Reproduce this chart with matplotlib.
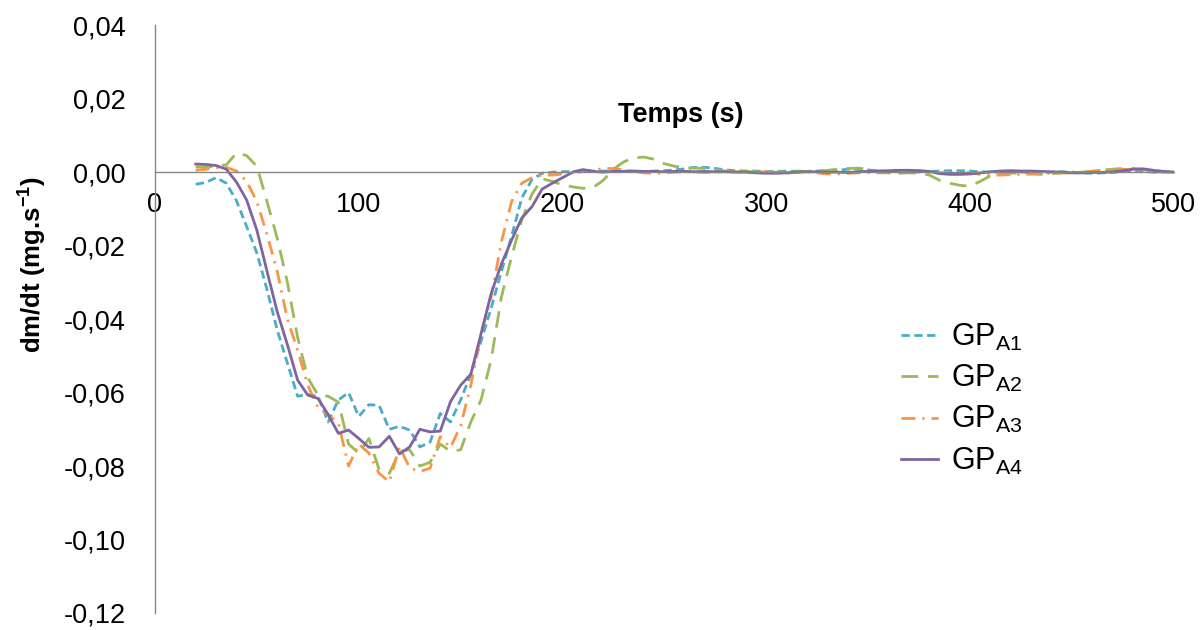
import numpy as np
import matplotlib
matplotlib.use("Agg")
import matplotlib.pyplot as plt
from matplotlib.ticker import FixedLocator, FuncFormatter

plt.rcParams['font.family'] = ['Liberation Sans', 'DejaVu Sans']
plt.rcParams['mathtext.fontset'] = 'custom'
plt.rcParams['mathtext.rm'] = 'Liberation Sans'
plt.rcParams['mathtext.bf'] = 'Liberation Sans:bold'

# time (s), one sample every 5 s from 20 to 500
temps = np.arange(20, 505, 5)

gp_a1 = [-0.0033, -0.0028, -0.0015, -0.0030, -0.0078, -0.0148, -0.0220, -0.0320, -0.0430, -0.0520,
         -0.0610, -0.0605, -0.0610, -0.0680, -0.0620, -0.0600, -0.0665, -0.0633, -0.0635, -0.0700,
         -0.0692, -0.0702, -0.0748, -0.0735, -0.0657, -0.0680, -0.0620, -0.0550, -0.0460, -0.0370,
         -0.0270, -0.0175, -0.0070, -0.0020, -0.0003, 0.0000, 0.0001, 0.0002, 0.0003, 0.0003,
         0.0003,
         0.0003, 0.0003, 0.0002, 0.0002, 0.0003, 0.0004, 0.0006, 0.0009, 0.0013, 0.0013,
         0.0010, 0.0006, 0.0004, 0.0003, 0.0003, 0.0002, 0.0002, 0.0003, 0.0002, 0.0002,
         0.0003, 0.0004, 0.0005, 0.0008, 0.0008, 0.0006, 0.0003, 0.0002, 0.0002, 0.0003,
         0.0003, 0.0002, 0.0003, 0.0004, 0.0004, 0.0003, 0.0001, 0.0000, 0.0000, 0.0001,
         0.0000, -0.0001, -0.0001, 0.0000, 0.0001, 0.0000, -0.0002, -0.0003, -0.0002, -0.0001,
         0.0001, 0.0003, 0.0002, 0.0000, 0.0000, 0.0000]

gp_a2 = [0.0014, 0.0014, 0.0015, 0.0020, 0.0052, 0.0045, 0.0016, -0.0080, -0.0180, -0.0300,
         -0.0450, -0.0560, -0.0607, -0.0610, -0.0626, -0.0740, -0.0765, -0.0725, -0.0810, -0.0820,
         -0.0760, -0.0756, -0.0800, -0.0790, -0.0740, -0.0760, -0.0756, -0.0680, -0.0620, -0.0510,
         -0.0340, -0.0230, -0.0130, -0.0060, -0.0018, -0.0025, -0.0035, -0.0040, -0.0044, -0.0042,
         -0.0022,
         0.0008, 0.0028, 0.0039, 0.0041, 0.0035, 0.0023, 0.0016, 0.0012, 0.0011, 0.0010,
         0.0006, 0.0003, 0.0002, 0.0002, 0.0000, -0.0001, 0.0000, 0.0002, 0.0003, 0.0002,
         0.0003, 0.0005, 0.0008, 0.0010, 0.0011, 0.0008, 0.0003, -0.0002, -0.0003, -0.0002,
         -0.0003, -0.0008, -0.0022, -0.0030, -0.0036, -0.0038, -0.0025, -0.0010, -0.0004, -0.0003,
         -0.0002, -0.0005, -0.0006, -0.0004, -0.0002, -0.0001, 0.0000, 0.0002, 0.0005, 0.0008,
         0.0010, 0.0010, 0.0007, 0.0003, 0.0001, 0.0000]

gp_a3 = [0.0005, 0.0008, 0.0012, 0.0013, 0.0003, -0.0025, -0.0080, -0.0170, -0.0270, -0.0400,
         -0.0485, -0.0580, -0.0640, -0.0660, -0.0683, -0.0800, -0.0740, -0.0765, -0.0820, -0.0843,
         -0.0748, -0.0805, -0.0815, -0.0806, -0.0720, -0.0750, -0.0690, -0.0580, -0.0440, -0.0340,
         -0.0190, -0.0080, -0.0030, -0.0015, -0.0008, -0.0008, -0.0005, -0.0003, 0.0002, 0.0005,
         0.0010,
         0.0010, 0.0006, 0.0002, -0.0002, -0.0003, -0.0002, 0.0000, 0.0001, 0.0000, -0.0001,
         0.0000, 0.0002, 0.0001, 0.0000, 0.0000, 0.0001, 0.0000, -0.0002, -0.0001, 0.0001,
         -0.0002, -0.0005, -0.0005, -0.0003, -0.0002, -0.0001, -0.0002, -0.0002, 0.0000, 0.0001,
         0.0000, -0.0002, -0.0002, -0.0001, 0.0000, -0.0002, -0.0006, -0.0008, -0.0008, -0.0007,
         -0.0006, -0.0005, -0.0004, -0.0003, -0.0002, -0.0002, 0.0000, 0.0003, 0.0006, 0.0008,
         0.0008, 0.0006, 0.0003, 0.0001, 0.0000, 0.0000]

gp_a4 = [0.0022, 0.0021, 0.0018, 0.0008, -0.0027, -0.0076, -0.0158, -0.0270, -0.0380, -0.0470,
         -0.0566, -0.0607, -0.0616, -0.0660, -0.0711, -0.0702, -0.0725, -0.0749, -0.0748, -0.0719,
         -0.0767, -0.0748, -0.0700, -0.0707, -0.0705, -0.0625, -0.0580, -0.0550, -0.0440, -0.0330,
         -0.0250, -0.0185, -0.0125, -0.0094, -0.0046, -0.0030, -0.0015, 0.0000, 0.0007, 0.0002,
         0.0000,
         0.0002, 0.0002, 0.0003, 0.0002, 0.0002, 0.0001, 0.0002, 0.0002, 0.0001, 0.0002,
         0.0001, 0.0001, 0.0000, 0.0000, -0.0002, -0.0003, -0.0003, -0.0002, 0.0000, 0.0001,
         0.0001, 0.0000, 0.0000, -0.0001, 0.0001, 0.0002, 0.0003, 0.0004, 0.0005, 0.0005,
         0.0004, 0.0002, -0.0004, -0.0006, -0.0006, -0.0005, -0.0002, 0.0001, 0.0003, 0.0004,
         0.0003, 0.0003, 0.0002, 0.0001, 0.0000, -0.0002, -0.0002, -0.0001, -0.0001, 0.0001,
         0.0004, 0.0008, 0.0009, 0.0005, 0.0002, 0.0000]

labels = ['GP$_{\\mathrm{A1}}$', 'GP$_{\\mathrm{A2}}$', 'GP$_{\\mathrm{A3}}$', 'GP$_{\\mathrm{A4}}$']
y_ticks = [0.04, 0.02, 0.00, -0.02, -0.04, -0.06, -0.08, -0.10, -0.12]
x_ticks = [0, 100, 200, 300, 400, 500]

fig = plt.figure(figsize=(12.04, 6.30), dpi=100)
ax = fig.add_axes([0.1287, 0.027, 0.8463, 0.933])

lw = 2.0
ax.plot(temps, gp_a1, color='#4BACC6', lw=lw, linestyle=(0, (3.0, 1.6)), label=labels[0])
ax.plot(temps, gp_a2, color='#9BBB59', lw=lw, linestyle=(0, (6, 3.5)), label=labels[1])
ax.plot(temps, gp_a3, color='#F79646', lw=lw, linestyle=(0, (5, 2.5, 0.8, 2.5)), label=labels[2])
ax.plot(temps, gp_a4, color='#8064A2', lw=lw, linestyle='-', label=labels[3])

ax.set_xlim(0, 500)
ax.set_ylim(-0.12, 0.04)
ax.spines['top'].set_visible(False)
ax.spines['right'].set_visible(False)
ax.spines['bottom'].set_position(('data', 0))
ax.spines['bottom'].set_color('#868686')
ax.spines['left'].set_color('#868686')
ax.spines['bottom'].set_linewidth(1.0)
ax.spines['left'].set_linewidth(1.0)

ax.xaxis.set_major_locator(FixedLocator(x_ticks))
ax.yaxis.set_major_locator(FixedLocator(y_ticks))
ax.yaxis.set_major_formatter(FuncFormatter(lambda v, p: f"{v:.2f}".replace('.', ',').replace('-0,00', '0,00')))
ax.tick_params(axis='x', length=0, pad=14, labelsize=19.5)
ax.tick_params(axis='y', length=0, pad=21, labelsize=19.5)

fig.text(681 / 1204, 1 - 115 / 630, 'Temps (s)', fontsize=19.5, fontweight='bold', ha='center', va='center')
fig.text(32 / 1204, 1 - 265 / 630, 'dm/dt (mg.s$^{\\mathbf{-1}}$)', fontsize=18.5, fontweight='bold',
         rotation=90, ha='center', va='center')

ax.legend(loc='upper left', bbox_to_anchor=(901 / 1204, 1 - 322 / 630), bbox_transform=fig.transFigure,
          frameon=False, fontsize=22, handlelength=1.2, handletextpad=0.45, labelspacing=0.33,
          borderpad=0, borderaxespad=0)

fig.savefig('out.png', dpi=100)
